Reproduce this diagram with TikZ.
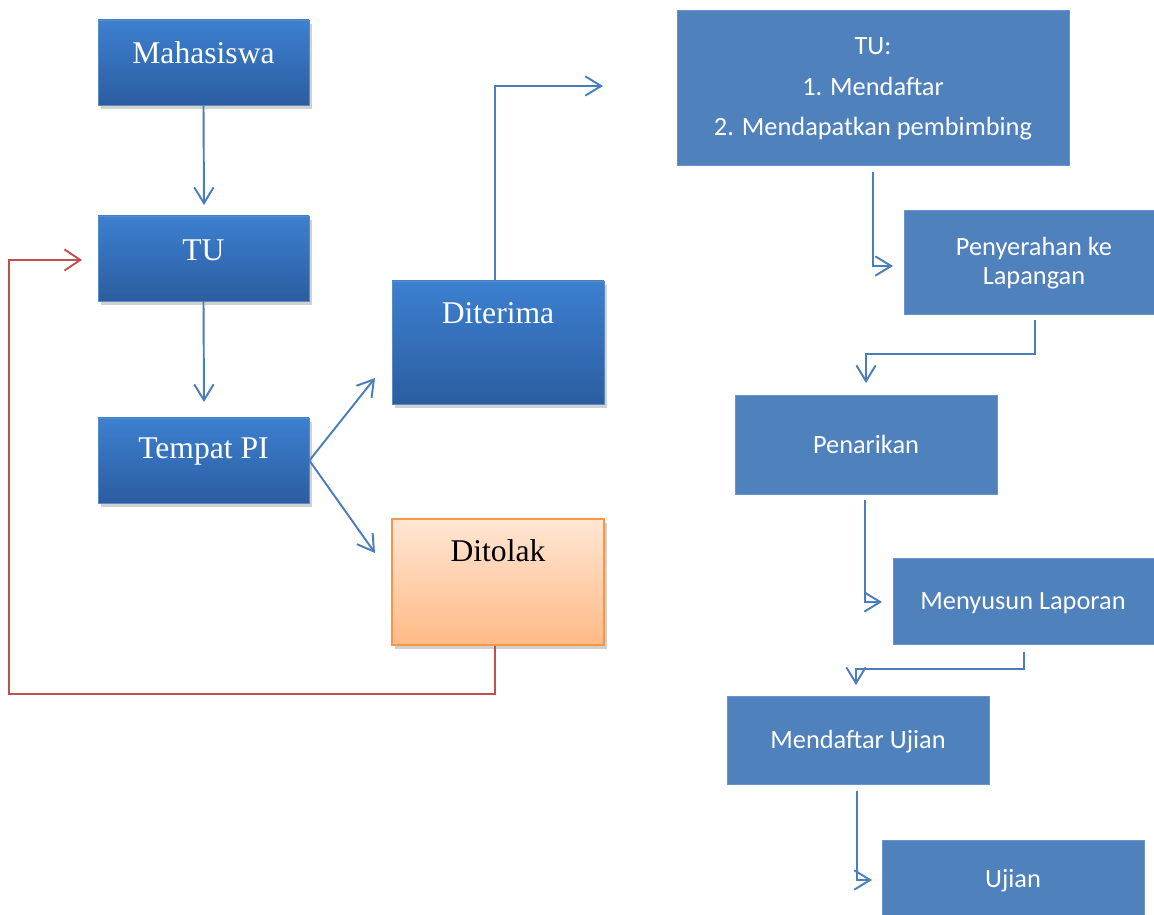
\documentclass[tikz,border=0pt]{standalone}
\usepackage{fontspec}
\setmainfont{Liberation Serif}
\newfontfamily\calib{Carlito}
\usetikzlibrary{arrows.meta,fit,shadows,calc}
\definecolor{lineblue}{RGB}{74,126,187}
\definecolor{linered}{RGB}{192,80,77}
\definecolor{gtop}{RGB}{60,128,208}
\definecolor{gbot}{RGB}{44,93,160}
\definecolor{otop}{RGB}{255,230,212}
\definecolor{obot}{RGB}{255,186,133}
\definecolor{oedge}{RGB}{247,150,70}
\definecolor{flatblue}{RGB}{79,129,189}
\tikzset{
  lbox/.style={draw=lineblue!90!white, line width=0.4pt, top color=gtop, bottom color=gbot, inner sep=0pt,
     drop shadow={shadow xshift=1.5pt, shadow yshift=-2.5pt, opacity=0.3, fill=black!60}},
  obox/.style={draw=oedge, line width=1pt, top color=otop, bottom color=obot, inner sep=0pt,
     drop shadow={shadow xshift=1.5pt, shadow yshift=-2.5pt, opacity=0.3, fill=black!60}},
  rbox/.style={fill=flatblue, draw=flatblue!85!white, line width=0.4pt, inner sep=0pt},
  ltext/.style={text=white, font=\fontsize{18}{20}\selectfont},
  otext/.style={text=black, font=\fontsize{18}{20}\selectfont},
  rtext/.style={text=white, font=\calib\fontsize{15}{23.2}\selectfont, align=center},
  rtextb/.style={text=white, font=\calib\fontsize{15}{16.5}\selectfont, align=center},
  conn/.style={draw=lineblue, line width=1.1pt, -{Straight Barb[length=9pt,width=11pt,line width=1.1pt]}},
  rconn/.style={draw=linered, line width=1.1pt, -{Straight Barb[length=9pt,width=12pt,line width=1.1pt]}},
}
\begin{document}
\begin{tikzpicture}[x=0.02cm,y=-0.02cm]
\useasboundingbox (0,0) rectangle (1154,915);
% left boxes
\node[lbox, fit={(98,20)(309,105)}] (mah) {};
\node[ltext] (mahT) at (203.5,53) {Mahasiswa};
\node[lbox, fit={(98,216)(309,301)}] (tu) {};
\node[ltext] (tuT) at (203.5,250) {TU};
\node[lbox, fit={(98,418)(309,503)}] (tpi) {};
\node[ltext] (tpiT) at (203.5,452) {Tempat PI};
\node[lbox, fit={(392,281)(604,404)}] (dit) {};
\node[ltext] (ditT) at (498,313) {Diterima};
\node[obox, fit={(392,519)(604,645)}] (tol) {};
\node[otext] (tolT) at (498,551) {Ditolak};
% right boxes
\node[rbox, fit={(677,10)(1069,165)}] (tu2) {};
\node[rtext] (tu2T) at (873,89) {TU:\\1. Mendaftar\\2. Mendapatkan pembimbing};
\node[rbox, fit={(904,210)(1154,314)}] (pen) {};
\node[rtextb] (penT) at (1034,263) {Penyerahan ke\\Lapangan};
\node[rbox, fit={(735,395)(997,494)}] (tar) {};
\node[rtext] (tarT) at (866,444) {Penarikan};
\node[rbox, fit={(893,558)(1154,644)}] (lap) {};
\node[rtext] (lapT) at (1023,603) {Menyusun Laporan};
\node[rbox, fit={(727,696)(989,784)}] (muj) {};
\node[rtext] (mujT) at (858,742) {Mendaftar Ujian};
\node[rbox, fit={(882,840)(1144,915)}] (uji) {};
\node[rtext] (ujiT) at (1013,881) {Ujian};
% coordinates
\coordinate (c1) at (204,205);
\coordinate (c2) at (204,402);
\coordinate (c3) at (375,378);
\coordinate (c4) at (375,553);
\coordinate (c5) at (603,86);
\coordinate (c6) at (82,260);
\coordinate (s1) at (873,172);
\coordinate (e1) at (893,266);
\coordinate (s2) at (1035,320);
\coordinate (e2) at (866,383);
\coordinate (s3) at (865,500);
\coordinate (e3) at (882,602);
\coordinate (s4) at (1024,652);
\coordinate (e4) at (856,685);
\coordinate (s5) at (857,791);
\coordinate (e5) at (872,880);
% connectors
\draw[conn] (mah.south) -- (c1);
\draw[conn] (tu.south) -- (c2);
\draw[conn] (tpi.east) -- (c3);
\draw[conn] (tpi.east) -- (c4);
\draw[conn] (dit.north -| 495,0) -- (495,86) -- (c5);
\draw[rconn] (tol.south -| 495,0) -- (495,694) -- (9,694) -- (9,260) -- (c6);
\draw[conn] (s1) |- (e1);
\draw[conn] (s2) -- (1035,354) -- (866,354) -- (e2);
\draw[conn] (s3) |- (e3);
\draw[conn] (s4) -- (1024,669) -- (856,669) -- (e4);
\draw[conn] (s5) |- (e5);
\end{tikzpicture}
\end{document}
